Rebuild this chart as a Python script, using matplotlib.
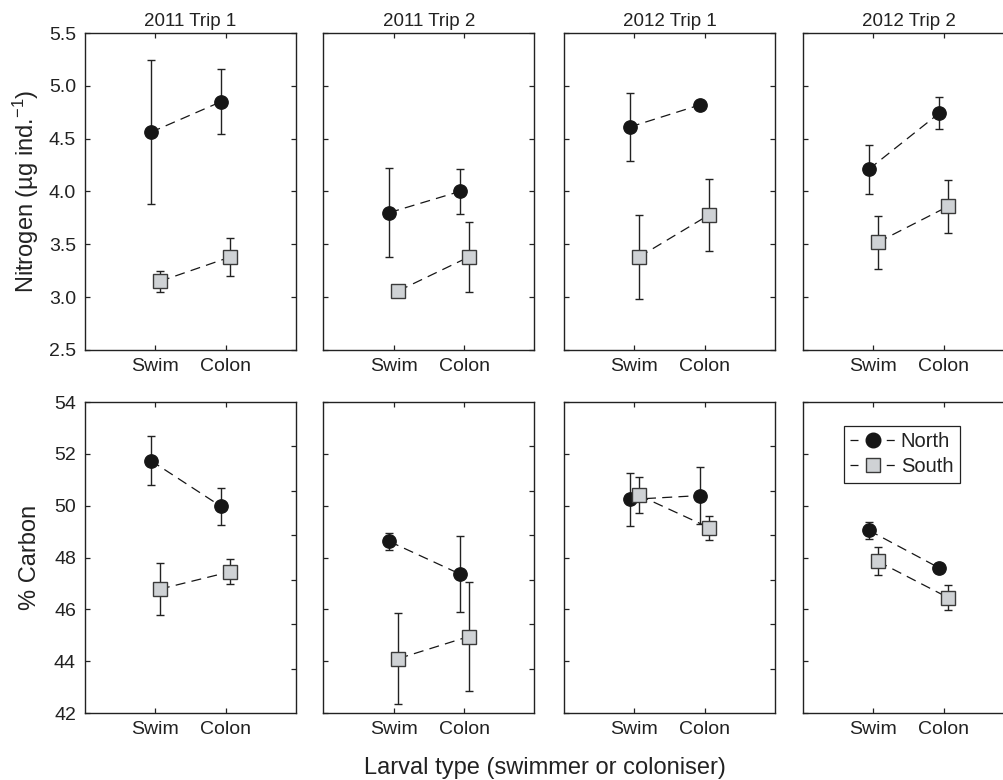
import numpy as np
import matplotlib
matplotlib.use('Agg')
import matplotlib.pyplot as plt
from matplotlib.lines import Line2D

plt.rcParams['font.family'] = ['Liberation Sans', 'DejaVu Sans']
plt.rcParams['mathtext.fontset'] = 'custom'
plt.rcParams['mathtext.rm'] = 'Liberation Sans'
plt.rcParams['mathtext.it'] = 'Liberation Sans:italic'
plt.rcParams['mathtext.bf'] = 'Liberation Sans:bold'

# ---------------- data ----------------
trips = ['2011 Trip 1', '2011 Trip 2', '2012 Trip 1', '2012 Trip 2']
larval_types = ['Swim', 'Colon']
sites = ['North', 'South']

# Nitrogen (ug ind.^-1), per trip: [Swim, Colon]
n_north_mean = [[4.56, 4.85], [3.80, 4.00], [4.61, 4.82], [4.21, 4.74]]
n_north_err = [[0.68, 0.31], [0.42, 0.21], [0.32, 0.03], [0.23, 0.15]]
n_south_mean = [[3.15, 3.38], [3.06, 3.38], [3.38, 3.78], [3.52, 3.86]]
n_south_err = [[0.10, 0.18], [0.04, 0.33], [0.40, 0.34], [0.25, 0.25]]

# % Carbon, per trip: [Swim, Colon]
c_north_mean = [[51.74, 49.97], [48.62, 47.37], [50.24, 50.39], [49.05, 47.60]]
c_north_err = [[0.96, 0.73], [0.33, 1.47], [1.03, 1.10], [0.33, 0.08]]
c_south_mean = [[46.78, 47.45], [44.10, 44.95], [50.40, 49.15], [47.85, 46.45]]
c_south_err = [[1.01, 0.49], [1.77, 2.11], [0.70, 0.47], [0.54, 0.48]]

n_yticks = [2.5, 3.0, 3.5, 4.0, 4.5, 5.0, 5.5]
c_yticks = [42, 44, 46, 48, 50, 52, 54]

# ---------------- style ----------------
W, H = 1004, 780
fig = plt.figure(figsize=(W / 100, H / 100), dpi=100)

col_left = [85, 323.5, 564, 803]
col_w = 211
row_top = [33, 402]
row_h = [317, 311]

INK = '#222222'
DOT = '#161616'
SQ_FILL = '#cfd2d5'
SQ_EDGE = '#3a3a3a'
OFF = 0.065
DASH = (0, (8, 5))
MS = 9.6

def style_axis(ax, yticks, right_sevenths=False):
    ax.set_xlim(0, 3)
    ax.set_xticks([1, 2])
    ax.set_xticklabels(larval_types)
    ax.set_ylim(yticks[0], yticks[-1])
    ax.set_yticks(yticks)
    for s in ax.spines.values():
        s.set_color(INK)
        s.set_linewidth(1.0)
    ax.tick_params(axis='x', direction='in', top=True, length=3.5, width=0.9,
                   color=INK, labelsize=14, pad=6, labelcolor=INK)
    ax.tick_params(axis='y', direction='in', right=not right_sevenths, length=3.5,
                   width=0.9, color=INK, labelsize=14, pad=6.5, labelcolor=INK)
    if right_sevenths:
        ax2 = ax.twinx()
        ax2.set_ylim(0, 7)
        ax2.set_yticks(np.arange(1, 7))
        ax2.tick_params(axis='y', direction='in', length=3.5, width=0.9,
                        color=INK, labelright=False)
        for s in ax2.spines.values():
            s.set_visible(False)

def draw(ax, nm, ne, sm, se):
    x = np.arange(1, len(larval_types) + 1)
    ax.errorbar(x - OFF, nm, yerr=ne, fmt='o', linestyle=DASH, lw=0.9,
                color=DOT, ecolor=INK, elinewidth=1.0, capsize=3, capthick=1.0,
                markersize=MS, markerfacecolor=DOT, markeredgecolor=DOT, zorder=3)
    ax.errorbar(x + OFF, sm, yerr=se, fmt='s', linestyle=DASH, lw=0.9,
                color=DOT, ecolor=INK, elinewidth=1.0, capsize=3, capthick=1.0,
                markersize=MS, markerfacecolor=SQ_FILL, markeredgecolor=SQ_EDGE,
                markeredgewidth=1.0, zorder=4)

for r in range(2):
    for c in range(4):
        ax = fig.add_axes([col_left[c] / W, 1 - (row_top[r] + row_h[r]) / H,
                           col_w / W, row_h[r] / H])
        if r == 0:
            draw(ax, n_north_mean[c], n_north_err[c], n_south_mean[c], n_south_err[c])
            style_axis(ax, n_yticks)
            ax.set_yticklabels([f'{v:.1f}' for v in n_yticks])
            ax.set_title(trips[c], fontsize=13.5, pad=5, color=INK)
        else:
            draw(ax, c_north_mean[c], c_north_err[c], c_south_mean[c], c_south_err[c])
            style_axis(ax, c_yticks, right_sevenths=True)
        if c > 0:
            ax.set_yticklabels([])
        else:
            lab = 'Nitrogen (µg ind.$^{-1}$)' if r == 0 else '% Carbon'
            ax.set_ylabel(lab, fontsize=17, color=INK)
            ax.yaxis.set_label_coords(-0.21, 0.5)
        if r == 1 and c == 3:
            leg_dash = (0, (6.4, 22.6))
            handles = [
                Line2D([], [], linestyle=leg_dash, lw=0.9, color=DOT, marker='o',
                       markersize=10.5, markerfacecolor=DOT, markeredgecolor=DOT),
                Line2D([], [], linestyle=leg_dash, lw=0.9, color=DOT, marker='s',
                       markersize=10.5, markerfacecolor=SQ_FILL,
                       markeredgecolor=SQ_EDGE, markeredgewidth=1.0),
            ]
            leg = ax.legend(handles, sites, loc='upper left',
                            bbox_to_anchor=(0.194, 0.923),
                            borderaxespad=0, fontsize=14.5, frameon=True,
                            fancybox=False, framealpha=1, edgecolor=INK,
                            handlelength=2.25, handletextpad=0.25,
                            labelspacing=0.3, borderpad=0.32, numpoints=1)
            leg.get_frame().set_linewidth(0.9)
            for t in leg.get_texts():
                t.set_color(INK)

fig.text(545 / W, 1 - 768 / H, 'Larval type (swimmer or coloniser)', ha='center',
         va='center', fontsize=17, color=INK)

fig.savefig('out.png', dpi=100)
